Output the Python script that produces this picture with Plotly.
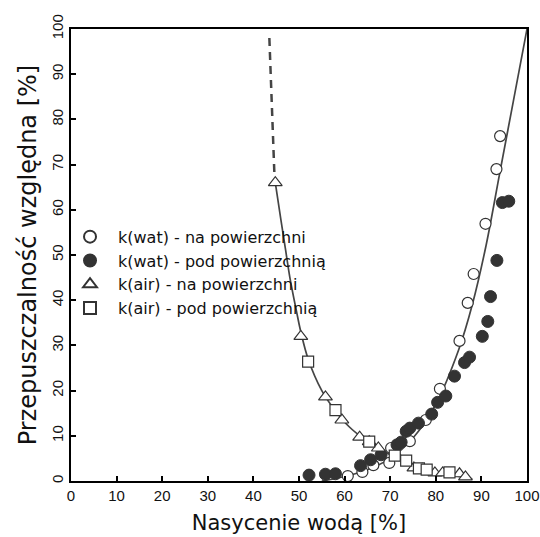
import plotly.graph_objects as go

# Data
wat_na_x = [60.7, 63.9, 66.3, 69.8, 70.2, 74.3, 77.8, 80.9, 85.2, 87.0, 88.3, 90.9, 93.3, 94.1]
wat_na_y = [1.1, 2.0, 3.5, 4.0, 7.3, 8.8, 13.5, 20.4, 31.0, 39.4, 45.8, 56.9, 69.0, 76.3]

wat_pod_x = [52.2, 55.8, 58.0, 63.5, 65.7, 68.0, 71.5, 72.4, 73.5, 74.3, 76.2, 79.1, 80.4,
             82.2, 84.1, 86.3, 87.4, 90.2, 91.4, 92.0, 93.4, 94.6, 96.0]
wat_pod_y = [1.3, 1.5, 1.6, 3.4, 4.7, 5.8, 8.0, 8.6, 11.0, 11.7, 12.8, 14.8, 17.4,
             18.8, 23.2, 26.2, 27.4, 32.0, 35.3, 40.8, 48.8, 61.6, 61.9]

air_na_x = [44.8, 50.4, 55.8, 59.4, 63.3, 65.4, 67.4, 71.5, 75.2, 77.0, 79.8, 81.5, 85.2, 86.5]
air_na_y = [66.0, 32.0, 18.6, 13.5, 9.7, 8.7, 7.3, 5.5, 2.9, 2.6, 1.8, 1.8, 1.6, 0.9]

air_pod_x = [52.0, 58.0, 65.4, 71.0, 73.5, 76.3, 78.0, 83.0]
air_pod_y = [26.4, 15.7, 8.7, 5.6, 4.5, 2.8, 2.5, 1.9]

# fitted curves
wat_curve_x = [55, 60, 65, 70, 75, 80, 85, 88, 91, 94, 97, 100]
wat_curve_y = [0, 1, 2.5, 5, 9.5, 17, 29, 39, 52, 68, 84, 100]

air_curve_x = [44.8, 46, 47, 48, 49.4, 50.4, 52, 55, 58, 61, 64, 67, 70, 73, 76, 80, 84, 88]
air_curve_y = [66, 58, 51.5, 45, 37.8, 33, 27, 20, 15.5, 12, 9.5, 7.5, 5.8, 4.4, 3.2, 2.0, 1.2, 0.5]

air_dash_x = [43.5, 44.6]
air_dash_y = [98, 68]

x_ticks = [0, 10, 20, 30, 40, 50, 60, 70, 80, 90, 100]
y_ticks = [0, 10, 20, 30, 40, 50, 60, 70, 80, 90, 100]

labels = ["k(wat) - na powierzchni", "k(wat) - pod powierzchnią",
          "k(air) - na powierzchni", "k(air) - pod powierzchnią"]

LINE = "#454545"
DARK = "#333333"
FONT = "DejaVu Sans, Liberation Sans, Arial, sans-serif"
TICKFONT = "Liberation Sans, Arial, sans-serif"

fig = go.Figure()
fig.add_trace(go.Scatter(x=wat_curve_x, y=wat_curve_y, mode="lines",
                         line=dict(color=LINE, width=1.7, shape="spline"), showlegend=False))
fig.add_trace(go.Scatter(x=air_curve_x, y=air_curve_y, mode="lines",
                         line=dict(color=LINE, width=1.7, shape="spline"), showlegend=False))
fig.add_trace(go.Scatter(x=air_dash_x, y=air_dash_y, mode="lines",
                         line=dict(color=LINE, width=2.5, dash="8px,6px"), showlegend=False))

fig.add_trace(go.Scatter(x=wat_na_x, y=wat_na_y, mode="markers", name=labels[0],
                         marker=dict(symbol="circle", size=11, color="white",
                                     line=dict(color=DARK, width=1.2))))
fig.add_trace(go.Scatter(x=wat_pod_x, y=wat_pod_y, mode="markers", name=labels[1],
                         marker=dict(symbol="circle", size=12, color=DARK,
                                     line=dict(color=DARK, width=1))))
fig.add_trace(go.Scatter(x=air_na_x, y=air_na_y, mode="markers", name=labels[2],
                         marker=dict(symbol="triangle-up", size=12, color="white",
                                     line=dict(color=DARK, width=1.2))))
fig.add_trace(go.Scatter(x=air_pod_x, y=air_pod_y, mode="markers", name=labels[3],
                         marker=dict(symbol="square", size=11, color="white",
                                     line=dict(color=DARK, width=1.2))))

fig.update_layout(
    width=540, height=537,
    margin=dict(l=71, r=13, t=29, b=56, autoexpand=False),
    paper_bgcolor="white", plot_bgcolor="white",
    font=dict(family=FONT, size=15, color="#111111"),
    legend=dict(x=-0.0197, y=0.578, xanchor="left", yanchor="top",
                bgcolor="rgba(0,0,0,0)", font=dict(size=16), itemwidth=46,
                tracegroupgap=0, itemsizing="constant"),
    xaxis=dict(range=[0, 100], tickvals=x_ticks, ticks="inside", ticklen=5,
               tickwidth=1.5, tickcolor="black", showgrid=False, zeroline=False,
               showline=True, linecolor="black", linewidth=2, mirror=True,
               tickfont=dict(size=15, family=TICKFONT), ticklabeloverflow="allow",
               automargin=True,
               title=dict(text="Nasycenie wodą [%]", font=dict(size=21), standoff=12)),
    yaxis=dict(range=[0, 100], tickvals=y_ticks, ticks="inside", ticklen=5,
               tickwidth=1.5, tickcolor="black", showgrid=False, zeroline=False,
               showline=True, linecolor="black", linewidth=2, mirror=True,
               tickangle=-90, tickfont=dict(size=15, family=TICKFONT), automargin=True,
               title=dict(text="Przepuszczalność względna [%]", font=dict(size=24), standoff=6)),
)

fig.write_html("out.html")
